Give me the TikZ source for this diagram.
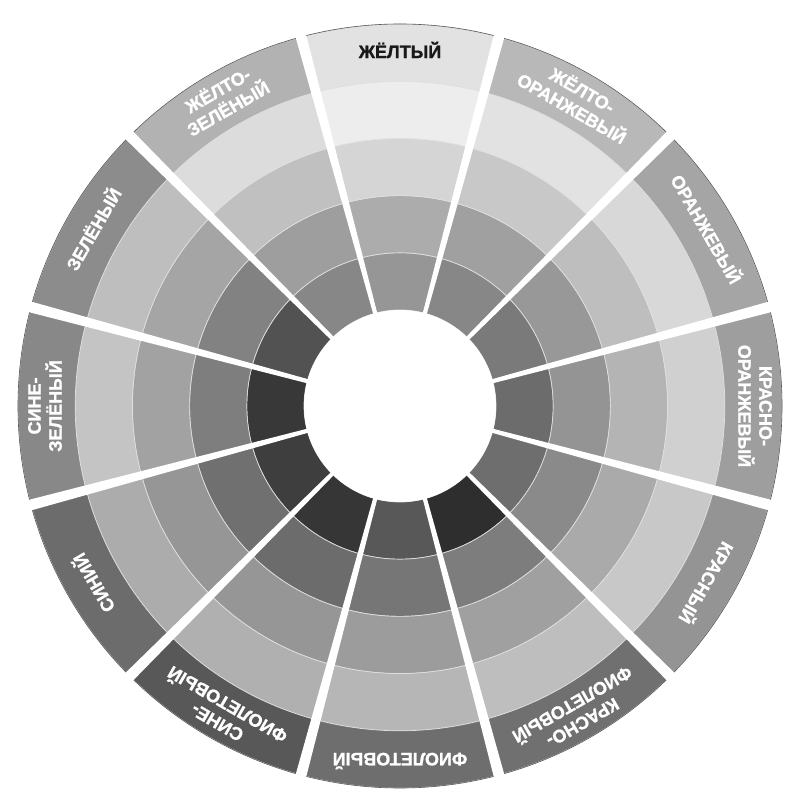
\documentclass[tikz,border=0pt]{standalone}
\usepackage{fontspec}
\setmainfont{Liberation Sans}
\newfontfamily\lblfont{Liberation Sans Bold}[FakeBold=1.2]
\usetikzlibrary{calc}

\begin{document}
\begin{tikzpicture}[x=1pt,y=1pt,
 cell/.style={draw=white!75!gray,line width=0.7pt},
 gap/.style={fill=white,draw=none},
 lbl/.style={font=\lblfont\fontsize{18}{21}\selectfont,text=white,align=center,inner sep=0pt}]
\useasboundingbox (0,0) rectangle (788,794);
\begin{scope}[shift={(400,388)}]
% sectors: centre angle / greys from the outer band to the inner one
\foreach \a/\ga/\gb/\gc/\gd/\ge in {90/226/237/213/172/150,60/184/226/200/160/135,
  30/165/216/190/152/122,0/158/208/180/148/108,-30/148/200/170/138/110,
  -60/112/190/160/125/46,-90/110/182/156/118/88,-120/88/176/150/108/54,
  -150/108/172/150/112/62,180/136/196/162/126/56,150/140/190/165/130/82,
  120/178/220/192/158/135}{
  \foreach \k/\g in {0/\ge,1/\gd,2/\gc,3/\gb,4/\ga}{
    \pgfmathsetmacro{\ri}{96+57.2*\k}
    \pgfmathsetmacro{\ro}{96+57.2*(\k+1)}
    \filldraw[cell,fill={rgb,255:red,\g;green,\g;blue,\g}]
      (\a-15:\ri) arc[start angle=\a-15,end angle=\a+15,radius=\ri]
      -- (\a+15:\ro) arc[start angle=\a+15,end angle=\a-15,radius=\ro] -- cycle;
  }
}
\draw[gray!70!black,line width=0.6pt] (0,0) circle[radius=382];
% white spokes between the sectors
\foreach \b in {15,45,...,345}{
  \fill[gap] ($(\b:90)+(\b+90:2)$) -- ($(\b:392)+(\b+90:5.5)$)
    -- ($(\b:392)+(\b-90:5.5)$) -- ($(\b:90)+(\b-90:2)$) -- cycle;
}
\fill[white] (0,0) circle[radius=96];
% labels in the outer band
\node[lbl,text=black!90,rotate=0] (yellow) at (90:356) {ЖЁЛТЫЙ};
\node[lbl,rotate=-30] (yelloworange) at (60:355) {ЖЁЛТО-\\ОРАНЖЕВЫЙ};
\node[lbl,rotate=-60] (orange) at (30:355) {ОРАНЖЕВЫЙ};
\node[lbl,rotate=-90] (redorange) at (0:355) {КРАСНО-\\ОРАНЖЕВЫЙ};
\node[lbl,rotate=-120] (red) at (-30:355) {КРАСНЫЙ};
\node[lbl,rotate=-150] (redviolet) at (-60:355) {КРАСНО-\\ФИОЛЕТОВЫЙ};
\node[lbl,rotate=180] (violet) at (-90:355) {ФИОЛЕТОВЫЙ};
\node[lbl,rotate=150] (blueviolet) at (-120:355) {СИНЕ-\\ФИОЛЕТОВЫЙ};
\node[lbl,rotate=120] (blue) at (-150:355) {СИНИЙ};
\node[lbl,rotate=90] (bluegreen) at (180:355) {СИНЕ-\\ЗЕЛЁНЫЙ};
\node[lbl,rotate=60] (green) at (150:355) {ЗЕЛЁНЫЙ};
\node[lbl,rotate=30] (yellowgreen) at (120:355) {ЖЁЛТО-\\ЗЕЛЁНЫЙ};
\end{scope}
\end{tikzpicture}
\end{document}
